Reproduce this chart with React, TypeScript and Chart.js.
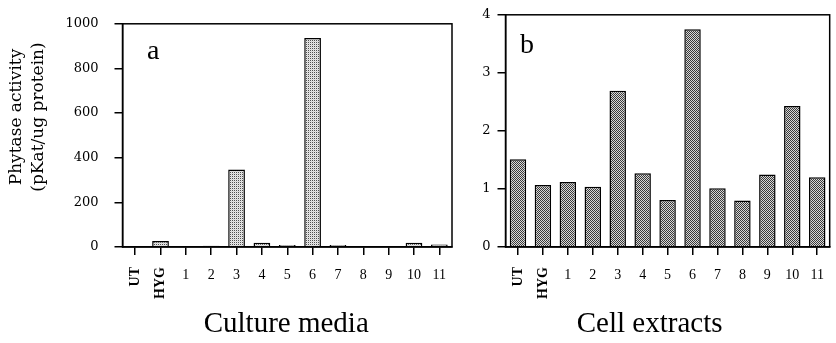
import React, { useEffect, useRef } from 'react';
import { Chart, registerables } from 'chart.js';

Chart.register(...registerables);

// ---------- data ----------
const categories = ['UT', 'HYG', '1', '2', '3', '4', '5', '6', '7', '8', '9', '10', '11'];
const rotatedCategories = ['UT', 'HYG'];
const cultureMedia = [0, 27, 0, 6, 347, 19, 9, 936, 9, 0, 0, 19, 11];
const cellExtracts = [1.51, 1.07, 1.12, 1.04, 2.69, 1.27, 0.81, 3.75, 1.01, 0.8, 1.25, 2.43, 1.2];
const mediaTicks = [0, 200, 400, 600, 800, 1000];
const extractTicks = [0, 1, 2, 3, 4];
const yTitleLines = ['Phytase activity', '(pKat/ug protein)'];
const panelLetters = ['a', 'b'];
const captions = ['Culture media', 'Cell extracts'];

type PanelCfg = {
  left: number;
  width: number;
  values: number[];
  ticks: number[];
  max: number;
  axisWidth: number;
  padRight: number;
  padTop: number;
  labelPad: number;
  letter: string;
  letterDx: number;
  letterDy: number;
  caption: string;
  captionDx: number;
  showYTitle: boolean;
  pattern: string[][];
};

function makePattern(cells: string[][]) {
  const c = document.createElement('canvas');
  c.width = cells[0].length;
  c.height = cells.length;
  const g = c.getContext('2d')!;
  cells.forEach((row, y) =>
    row.forEach((col, x) => {
      g.fillStyle = col;
      g.fillRect(x, y, 1, 1);
    })
  );
  return g.createPattern(c, 'repeat')!;
}

function annotPlugin(cfg: PanelCfg) {
  return {
    id: 'annot',
    afterDraw(chart: any) {
      const { ctx, chartArea, scales } = chart;
      ctx.save();
      // frame
      ctx.strokeStyle = '#000';
      ctx.lineWidth = 1.5;
      ctx.strokeRect(
        chartArea.left,
        chartArea.top,
        chartArea.right - chartArea.left,
        chartArea.bottom - chartArea.top
      );
      ctx.fillStyle = '#000';
      // panel letter
      ctx.font = '28px "Liberation Serif"';
      ctx.textAlign = 'left';
      ctx.textBaseline = 'alphabetic';
      ctx.fillText(cfg.letter, chartArea.left + cfg.letterDx, chartArea.top + cfg.letterDy);
      // caption
      ctx.font = '29px "Liberation Serif"';
      ctx.textAlign = 'center';
      ctx.fillText(cfg.caption, (chartArea.left + chartArea.right) / 2 + cfg.captionDx, 332);
      // rotated category labels
      ctx.font = 'bold 14px "Liberation Serif"';
      rotatedCategories.forEach((lbl) => {
        const x = scales.x.getPixelForValue(categories.indexOf(lbl));
        ctx.save();
        ctx.translate(x, chartArea.bottom + 20);
        ctx.rotate(-Math.PI / 2);
        ctx.textAlign = 'right';
        ctx.textBaseline = 'middle';
        ctx.fillText(lbl, 0, 0);
        ctx.restore();
      });
      // y title
      if (cfg.showYTitle) {
        ctx.font = '17px "DejaVu Serif"';
        const xs = [21, 43];
        yTitleLines.forEach((line, i) => {
          ctx.save();
          ctx.translate(xs[i], 117);
          ctx.rotate(-Math.PI / 2);
          ctx.textAlign = 'center';
          ctx.textBaseline = 'alphabetic';
          ctx.fillText(line, 0, 0);
          ctx.restore();
        });
      }
      ctx.restore();
    },
  };
}

function Panel({ cfg }: { cfg: PanelCfg }) {
  const ref = useRef<HTMLCanvasElement>(null);
  useEffect(() => {
    const pattern = makePattern(cfg.pattern);
    const chart = new Chart(ref.current!, {
      type: 'bar',
      data: {
        labels: categories,
        datasets: [
          {
            data: cfg.values,
            backgroundColor: pattern as any,
            borderColor: '#000',
            borderWidth: 1.5,
            barPercentage: 0.66,
            categoryPercentage: 1,
          },
        ],
      },
      options: {
        responsive: false,
        animation: false,
        events: [],
        devicePixelRatio: 1,
        layout: { padding: { left: 0, right: cfg.padRight, top: cfg.padTop, bottom: 0 } },
        plugins: { legend: { display: false }, tooltip: { enabled: false } },
        scales: {
          x: {
            offset: true,
            afterFit: (s: any) => {
              s.height = 96;
            },
            grid: {
              offset: false,
              drawOnChartArea: false,
              drawTicks: true,
              tickLength: 8,
              color: '#000',
              lineWidth: 1.5,
            },
            border: { display: true, color: '#000', width: 1.5 },
            ticks: {
              autoSkip: false,
              maxRotation: 0,
              minRotation: 0,
              padding: 12,
              color: '#000',
              font: { family: '"Liberation Serif"', size: 14 },
              callback: (_v: any, i: number) =>
                rotatedCategories.includes(categories[i]) ? '' : categories[i],
            },
          },
          y: {
            min: 0,
            max: cfg.max,
            afterFit: (s: any) => {
              s.width = cfg.axisWidth;
            },
            afterBuildTicks: (s: any) => {
              s.ticks = cfg.ticks.map((v) => ({ value: v }));
            },
            grid: {
              drawOnChartArea: false,
              drawTicks: true,
              tickLength: 8,
              color: '#000',
              lineWidth: 1.5,
            },
            border: { display: true, color: '#000', width: 1.5 },
            ticks: {
              padding: cfg.labelPad,
              color: '#000',
              font: { family: '"DejaVu Serif"', size: 13 },
              callback: (v: any) => String(v),
            },
          },
        },
      },
      plugins: [annotPlugin(cfg)],
    });
    return () => chart.destroy();
  }, [cfg]);
  return (
    <canvas
      ref={ref}
      width={cfg.width}
      height={343}
      style={{ position: 'absolute', left: cfg.left, top: 0, width: cfg.width, height: 343 }}
    />
  );
}

const leftCfg: PanelCfg = {
  left: 0,
  width: 470,
  values: cultureMedia,
  ticks: mediaTicks,
  max: 1000,
  axisWidth: 122.5,
  padRight: 18,
  padTop: 16,
  labelPad: 16,
  letter: panelLetters[0],
  letterDx: 24.5,
  letterDy: 35,
  caption: captions[0],
  captionDx: -1,
  showYTitle: true,
  pattern: [
    ['#505050', '#e8e8e8'],
    ['#e8e8e8', '#d4d4d4'],
  ],
};

const rightCfg: PanelCfg = {
  left: 470,
  width: 366,
  values: cellExtracts,
  ticks: extractTicks,
  max: 4,
  axisWidth: 35.5,
  padRight: 1,
  padTop: 13,
  labelPad: 7,
  letter: panelLetters[1],
  letterDx: 14.5,
  letterDy: 38,
  caption: captions[1],
  captionDx: -18,
  showYTitle: false,
  pattern: [
    ['#3a3a3a', '#d8d8d8'],
    ['#d8d8d8', '#3a3a3a'],
  ],
};

export default function App() {
  return (
    <div style={{ position: 'fixed', left: 0, top: 0, width: 836, height: 343, background: '#fff' }}>
      <Panel cfg={leftCfg} />
      <Panel cfg={rightCfg} />
    </div>
  );
}
